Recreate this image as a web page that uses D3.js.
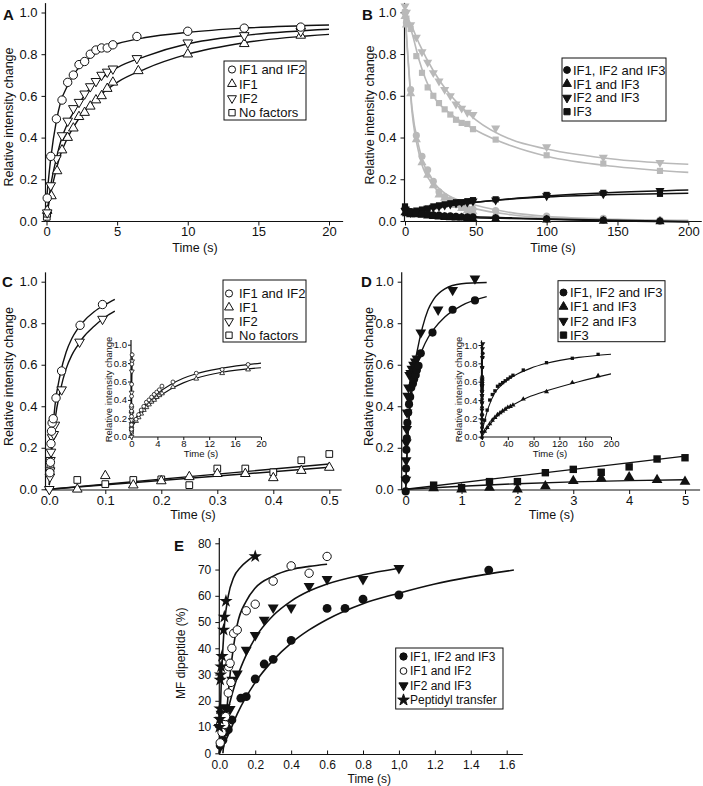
<!DOCTYPE html>
<html><head><meta charset="utf-8">
<script src="https://cdn.jsdelivr.net/npm/d3@7"></script>
<style>body{margin:0;background:#fff} svg{display:block;font-family:"Liberation Sans",Arial,Helvetica,sans-serif}</style>
</head><body><svg id="c" width="703" height="786"></svg>
<script>
// ---------------- DATA ----------------
// Panel A (time s, relative intensity change)
const aIF1IF2 = [[0.05,0.11],[0.3,0.31],[0.7,0.49],[1.1,0.58],[1.5,0.665],[1.9,0.70],[2.3,0.75],[2.7,0.765],[3.1,0.80],[3.5,0.82],[3.9,0.83],[4.3,0.83],[4.7,0.845],[6.4,0.885],[10,0.91],[14,0.925],[18,0.93]];
const aIF1 = [[0.05,0.05],[0.35,0.12],[0.75,0.24],[1.1,0.34],[1.5,0.40],[1.9,0.445],[2.3,0.50],[2.7,0.52],[3.1,0.55],[3.5,0.58],[3.9,0.60],[4.3,0.635],[4.7,0.665],[6.5,0.72],[10,0.80],[14,0.85],[18,0.89]];
const aIF2 = [[0.05,0.04],[0.3,0.17],[0.7,0.30],[1.1,0.41],[1.5,0.48],[1.9,0.54],[2.3,0.57],[2.7,0.61],[3.1,0.645],[3.5,0.67],[3.9,0.70],[4.3,0.715],[4.7,0.73],[6.4,0.78],[10,0.855],[14,0.89],[18,0.91]];
const aNone = [[0.02,0.02],[0.05,0.035]];
const aFitIF1IF2 = [[0,0.1],[0.3,0.3],[0.7,0.48],[1,0.57],[1.5,0.65],[2,0.71],[3,0.78],[4,0.825],[5,0.85],[7,0.88],[10,0.905],[14,0.925],[20,0.94]];
const aFitIF2 = [[0,0.02],[0.3,0.17],[0.7,0.30],[1,0.38],[1.5,0.47],[2,0.53],[3,0.63],[4,0.69],[5,0.735],[7,0.79],[10,0.85],[14,0.89],[20,0.92]];
const aFitIF1 = [[0,0.02],[0.3,0.13],[0.7,0.25],[1,0.32],[1.5,0.40],[2,0.46],[3,0.55],[4,0.615],[5,0.665],[7,0.73],[10,0.80],[14,0.855],[20,0.895]];

// Panel B
const bTime = [0,1,4,8,12,16,20,24,28,32,36,40,44,48,64,100,140,180];
const bGrayIF2IF3 = [1.03,1.0,0.94,0.88,0.81,0.76,0.71,0.67,0.63,0.60,0.56,0.54,0.52,0.51,0.445,0.355,0.305,0.28];
const bGrayIF3 = [1.0,0.97,0.92,0.79,0.71,0.64,0.60,0.565,0.535,0.51,0.485,0.47,0.465,0.44,0.39,0.315,0.275,0.24];
const bGrayIF1IF2IF3 = [1.0,0.95,0.63,0.41,0.31,0.245,0.19,0.14,0.117,0.10,0.085,0.065,0.06,0.057,0.05,0.024,0.013,0.005];
const bGrayIF1IF3 = [0.98,0.94,0.61,0.39,0.28,0.22,0.17,0.125,0.11,0.09,0.075,0.06,0.05,0.045,0.03,0.01,0.005,0.0];
const bBlackIF3 = [0.07,0.055,0.045,0.05,0.055,0.06,0.07,0.075,0.08,0.085,0.09,0.09,0.095,0.1,0.104,0.125,0.135,0.13];
const bBlackIF2IF3 = [0.05,0.045,0.04,0.045,0.05,0.06,0.065,0.07,0.075,0.08,0.085,0.09,0.09,0.095,0.10,0.12,0.13,0.145];
const bBlackIF1IF2IF3 = [0.06,0.05,0.045,0.04,0.035,0.035,0.03,0.028,0.025,0.025,0.022,0.02,0.02,0.02,0.015,0.01,0.005,0.0];
const bBlackIF1IF3 = [0.04,0.035,0.03,0.03,0.028,0.025,0.022,0.02,0.018,0.016,0.015,0.015,0.012,0.012,0.01,0.005,0.0,-0.003];
const bFitTime = [0,5,10,20,30,40,50,75,100,150,200];
const bFitGrayIF2IF3 = [1.0,0.93,0.85,0.72,0.62,0.545,0.485,0.39,0.345,0.295,0.272];
const bFitGrayIF3 = [1.0,0.90,0.77,0.60,0.525,0.475,0.435,0.36,0.31,0.26,0.233];
const bFitGrayIF1IF2IF3 = [1.0,0.54,0.35,0.19,0.125,0.095,0.075,0.04,0.022,0.008,0.003];
const bFitGrayIF1IF3 = [1.0,0.52,0.32,0.17,0.11,0.078,0.058,0.03,0.015,0.005,0.0];
const bFitBlackIF3 = [0.05,0.05,0.055,0.065,0.075,0.083,0.09,0.105,0.115,0.127,0.133];
const bFitBlackIF2IF3 = [0.045,0.047,0.052,0.062,0.072,0.082,0.09,0.107,0.12,0.138,0.149];
const bFitBlackIF1IF2IF3 = [0.05,0.045,0.04,0.033,0.027,0.023,0.02,0.015,0.01,0.003,-0.002];
const bFitBlackIF1IF3 = [0.04,0.036,0.032,0.027,0.022,0.019,0.016,0.012,0.008,0.0,-0.005];

// Panel C (fast phase, 0-0.5 s)
const cIF1IF2 = [[0.001,0.08],[0.002,0.13],[0.003,0.22],[0.004,0.28],[0.005,0.32],[0.007,0.34],[0.012,0.44],[0.022,0.57],[0.055,0.79],[0.095,0.89]];
const cIF2 = [[0,0.0],[0.001,0.06],[0.0015,0.09],[0.002,0.14],[0.003,0.18],[0.005,0.25],[0.008,0.265],[0.01,0.31],[0.022,0.48],[0.054,0.71],[0.095,0.82]];
const cIF1 = [[0.05,0.0],[0.1,0.065],[0.15,0.02],[0.2,0.04],[0.25,0.06],[0.3,0.075],[0.35,0.075],[0.4,0.055],[0.45,0.09],[0.5,0.105]];
const cNone = [[0.002,0.1],[0.05,0.045],[0.1,0.025],[0.15,0.045],[0.2,0.048],[0.25,0.02],[0.3,0.1],[0.35,0.1],[0.4,0.082],[0.45,0.14],[0.5,0.17]];
const cFitIF1IF2 = [[0,0.02],[0.005,0.25],[0.01,0.40],[0.02,0.56],[0.03,0.66],[0.04,0.725],[0.05,0.77],[0.06,0.805],[0.08,0.855],[0.1,0.89],[0.117,0.915]];
const cFitIF2 = [[0,0.02],[0.005,0.2],[0.01,0.33],[0.02,0.48],[0.03,0.58],[0.04,0.645],[0.05,0.69],[0.06,0.73],[0.08,0.785],[0.1,0.83],[0.117,0.858]];
const cFitNone = [[0,0],[0.5,0.122]];
const cFitIF1 = [[0,0],[0.5,0.106]];
// Panel C inset (0-20 s)
const ciTime = [0.7,1.1,1.5,1.9,2.3,2.7,3.1,3.5,3.9,4.3,4.7,6.4,10,14,18];
const ciUpper = [0.19,0.24,0.29,0.33,0.375,0.40,0.43,0.46,0.485,0.51,0.55,0.595,0.69,0.73,0.785];
const ciLower = [0.17,0.21,0.25,0.29,0.32,0.35,0.38,0.40,0.43,0.45,0.47,0.54,0.63,0.69,0.73];
const ciFitTime = [0,1,2,4,6,8,10,14,20];
const ciFitUpper = [0.12,0.24,0.34,0.47,0.565,0.635,0.685,0.745,0.80];
const ciFitLower = [0.10,0.20,0.29,0.42,0.515,0.585,0.635,0.70,0.75];

// Panel D (0-5 s)
const dIF1IF2IF3 = [[0,-0.01],[0.003,0.05],[0.006,0.1],[0.012,0.19],[0.02,0.245],[0.03,0.32],[0.045,0.37],[0.06,0.41],[0.08,0.445],[0.1,0.49],[0.13,0.51],[0.15,0.53],[0.18,0.55],[0.2,0.575],[0.23,0.595],[0.27,0.655],[0.48,0.755],[0.84,0.865],[1.24,0.91]];
const dIF2IF3 = [[0.003,0.045],[0.008,0.14],[0.012,0.225],[0.018,0.29],[0.025,0.37],[0.035,0.45],[0.05,0.49],[0.07,0.55],[0.09,0.56],[0.11,0.58],[0.14,0.60],[0.17,0.615],[0.2,0.63],[0.27,0.755],[0.58,0.865],[0.84,0.96],[1.24,1.015]];
const dIF3 = [[0.5,0.02],[1,0.008],[1.5,0.037],[2,0.037],[2.5,0.08],[3,0.096],[3.5,0.082],[4,0.108],[4.5,0.146],[5,0.152]];
const dIF1IF3 = [[0.5,0.005],[1,0.0],[1.5,0.008],[2,0.0],[2.5,0.015],[3,0.04],[3.5,0.053],[4,0.058],[4.5,0.045],[5,0.037]];
const dFitIF1IF2IF3 = [[0,0],[0.02,0.15],[0.05,0.3],[0.1,0.45],[0.2,0.6],[0.3,0.675],[0.4,0.73],[0.5,0.77],[0.7,0.83],[1.0,0.885],[1.45,0.928]];
const dFitIF2IF3 = [[0,0],[0.02,0.15],[0.05,0.32],[0.1,0.5],[0.2,0.66],[0.3,0.78],[0.4,0.865],[0.5,0.915],[0.7,0.965],[1.0,0.99],[1.45,0.996]];
const dFitIF3 = [[0,0],[5,0.16]];
const dFitIF1IF3 = [[0,0],[1,0.015],[2,0.027],[3,0.036],[4,0.042],[5,0.046]];
// Panel D inset (0-200 s)
const diTime = [4,8,12,16,20,24,28,32,36,40,44,48,64,100,140,180];
const diIF3 = [0.18,0.29,0.40,0.46,0.50,0.55,0.57,0.59,0.61,0.63,0.65,0.67,0.727,0.807,0.855,0.898];
const diIF1IF3 = [0.06,0.10,0.14,0.18,0.21,0.24,0.26,0.28,0.30,0.32,0.33,0.345,0.41,0.49,0.59,0.665];
const diFitTime = [0,5,10,20,30,40,50,75,100,150,200];
const diFitIF3 = [0.05,0.2,0.32,0.48,0.56,0.62,0.665,0.745,0.80,0.865,0.90];
const diFitIF1IF3 = [0.0,0.06,0.11,0.2,0.26,0.315,0.355,0.44,0.5,0.6,0.685];

// Panel E (time s, MF dipeptide %)
const ePT = [[0,10],[0.002,13],[0.004,17],[0.005,28],[0.007,30],[0.01,33],[0.015,37],[0.024,47],[0.028,52],[0.037,58],[0.2,75]];
const eIF1IF2 = [[0.005,4],[0.015,8],[0.03,11],[0.035,14],[0.05,23],[0.065,27],[0.052,33],[0.06,34.3],[0.07,40],[0.08,45.7],[0.1,47],[0.15,54.3],[0.2,56.8],[0.3,65.6],[0.4,71.4],[0.5,68.6],[0.6,75]];
const eIF2IF3 = [[0.0,10],[0.005,12.7],[0.01,15],[0.033,17.5],[0.06,16.8],[0.07,28],[0.1,30.3],[0.15,39.4],[0.2,45],[0.25,50.8],[0.3,55.5],[0.4,55.5],[0.5,63.7],[0.6,66.3],[0.8,66.3],[1.0,70.5]];
const eIF1IF2IF3 = [[0.005,3],[0.02,5],[0.03,8],[0.04,10],[0.05,9],[0.07,12.7],[0.12,21],[0.15,21.6],[0.2,28.3],[0.25,34],[0.3,35.8],[0.4,43],[0.6,55.2],[0.7,55.2],[0.8,58.7],[1.0,60.3],[1.5,69.8]];
const eFitPT = [[0,0],[0.005,14],[0.01,25],[0.02,40],[0.03,50],[0.05,60],[0.08,67],[0.12,71],[0.16,73.5],[0.2,75.5]];
const eFitIF1IF2 = [[0.02,0],[0.04,15],[0.06,30],[0.08,41],[0.1,49],[0.15,58],[0.2,63],[0.3,67.5],[0.4,70],[0.5,71.2],[0.6,72]];
const eFitIF2IF3 = [[0,0],[0.02,8],[0.05,17],[0.1,29],[0.15,37.5],[0.2,44],[0.3,52.5],[0.4,58],[0.5,61.8],[0.6,64.5],[0.8,68],[1.0,70.5]];
const eFitIF1IF2IF3 = [[0,0],[0.05,7],[0.1,15],[0.2,27],[0.3,35.5],[0.4,42],[0.5,47],[0.6,51],[0.8,57],[1.0,61],[1.2,64.5],[1.4,67.2],[1.64,69.8]];
const eXTickLabels = ["0.0","0.2","0.4","0.6","0.8","1,0","1.2","1.4","1.6"];

// legends
const legAC = ["IF1 and IF2","IF1","IF2","No factors"];
const legBD = ["IF1, IF2 and IF3","IF1 and IF3","IF2 and IF3","IF3"];
const legE = ["IF1, IF2 and IF3","IF1 and IF2","IF2 and IF3","Peptidyl transfer"];

// ---------------- DRAWING ----------------
const svg = d3.select("#c");
const GRAY = "#b9b9b9";
const zip = (t, v) => t.map((d, i) => [d, v[i]]);
const symType = {circle: d3.symbolCircle, up: d3.symbolTriangle, down: d3.symbolTriangle, square: d3.symbolSquare, star: d3.symbolStar};

function axes(g, x, y, o) {
  const fs = o.fs || 13;
  const xa = g.append("g").attr("transform", `translate(0,${o.xLine})`);
  xa.call(d3.axisBottom(x).tickValues(o.xMinor).tickSize(o.xIn ? -o.minor : o.minor).tickFormat(""));
  xa.call(d3.axisBottom(x).tickValues(o.xMajor).tickSize(o.xIn ? -o.major : o.major).tickPadding(o.xPad).tickFormat(o.xFmt));
  const ya = g.append("g").attr("transform", `translate(${o.yLine},0)`);
  ya.call(d3.axisLeft(y).tickValues(o.yMinor).tickSize(o.minor).tickFormat(""));
  ya.call(d3.axisLeft(y).tickValues(o.yMajor).tickSize(o.major).tickPadding(o.yPad).tickFormat(o.yFmt));
  [xa, ya].forEach(a => {
    a.selectAll(".domain").remove();
    a.selectAll("line").attr("stroke", "#111").attr("stroke-width", 1);
    a.selectAll("text").attr("font-size", fs).attr("font-family", "Liberation Sans, Arial, sans-serif").attr("fill", "#111");
    a.attr("font-size", null).attr("font-family", null);
  });
  g.append("line").attr("x1", o.yLine).attr("x2", x(o.xEnd)).attr("y1", o.xLine).attr("y2", o.xLine).attr("stroke", "#111").attr("stroke-width", 1.2);
  g.append("line").attr("x1", o.yLine).attr("x2", o.yLine).attr("y1", o.xLine).attr("y2", y(o.yEnd)).attr("stroke", "#111").attr("stroke-width", 1.2);
}

function curve(g, x, y, data, color, w) {
  g.append("path").datum(data)
    .attr("d", d3.line().x(d => x(d[0])).y(d => y(d[1])).curve(d3.curveMonotoneX))
    .attr("fill", "none").attr("stroke", color).attr("stroke-width", w || 1.4);
}

function points(g, x, y, data, type, size, fill, stroke, sw) {
  const p = d3.symbol().type(symType[type]).size(size)();
  g.append("g").selectAll("path").data(data).join("path")
    .attr("d", p)
    .attr("transform", d => `translate(${x(d[0])},${y(d[1])})` + (type === "down" ? " rotate(180)" : ""))
    .attr("fill", fill).attr("stroke", stroke).attr("stroke-width", sw == null ? 1 : sw);
}

function legend(g, box, rows, items, fs) {
  g.append("rect").attr("x", box[0]).attr("y", box[1]).attr("width", box[2]).attr("height", box[3])
    .attr("fill", "#fff").attr("stroke", "#111").attr("stroke-width", 1);
  items.forEach((it, i) => {
    const p = d3.symbol().type(symType[it.type]).size(it.size)();
    g.append("path").attr("d", p)
      .attr("transform", `translate(${rows.mx},${rows.y0 + i * rows.dy})` + (it.type === "down" ? " rotate(180)" : ""))
      .attr("fill", it.fill).attr("stroke", "#111").attr("stroke-width", 1);
    g.append("text").attr("x", rows.tx).attr("y", rows.y0 + i * rows.dy).attr("dy", "0.36em")
      .attr("font-size", fs).attr("fill", "#111").text(it.label);
  });
}

function titles(g, xt, yt, fs) {
  g.append("text").attr("x", xt[0]).attr("y", xt[1]).attr("text-anchor", "middle").attr("dy", "0.36em")
    .attr("font-size", fs).attr("fill", "#111").text(xt[2]);
  g.append("text").attr("transform", `translate(${yt[0]},${yt[1]}) rotate(-90)`).attr("text-anchor", "middle").attr("dy", "0.36em")
    .attr("font-size", fs).attr("fill", "#111").text(yt[2]);
}
function letter(g, x, y, s) {
  g.append("text").attr("x", x).attr("y", y).attr("font-size", 15).attr("font-weight", "bold").attr("fill", "#111").text(s);
}
const f1 = d3.format(".1f"), f0 = d3.format("d");
const rng = (a, b, s) => d3.range(a, b + s / 2, s).map(v => +v.toFixed(4));

// ---------- Panel A ----------
{
  const g = svg.append("g");
  const x = d3.scaleLinear().domain([0, 20]).range([46.5, 329]);
  const y = d3.scaleLinear().domain([0, 1]).range([221, 12.5]);
  axes(g, x, y, {xLine: 221.5, yLine: 45.5, xEnd: 21, yEnd: 1.045, xMajor: rng(0,20,5), xMinor: rng(0,20,2.5), yMajor: rng(0,1,0.2), yMinor: rng(0,1,0.1), xFmt: f0, yFmt: f1, major: 4, minor: 3, xPad: 1.5, yPad: 4});
  curve(g, x, y, aFitIF1IF2, "#111"); curve(g, x, y, aFitIF2, "#111"); curve(g, x, y, aFitIF1, "#111");
  points(g, x, y, aNone, "square", 45, "#fff", "#111");
  points(g, x, y, aIF1, "up", 40, "#fff", "#111");
  points(g, x, y, aIF2, "down", 40, "#fff", "#111");
  points(g, x, y, aIF1IF2, "circle", 55, "#fff", "#111");
  legend(g, [224, 61, 82, 59], {mx: 232, tx: 239, y0: 69.5, dy: 14.4},
    [{type:"circle",size:40,fill:"#fff",label:legAC[0]},{type:"up",size:34,fill:"#fff",label:legAC[1]},{type:"down",size:34,fill:"#fff",label:legAC[2]},{type:"square",size:40,fill:"#fff",label:legAC[3]}], 13);
  titles(g, [195, 247.5, "Time (s)"], [8.5, 117, "Relative intensity change"], 12.5);
  letter(g, 3, 20, "A");
}

// ---------- Panel B ----------
{
  const g = svg.append("g");
  const x = d3.scaleLinear().domain([0, 200]).range([405, 688.3]);
  const y = d3.scaleLinear().domain([0, 1]).range([221, 12.3]);
  axes(g, x, y, {xLine: 221.5, yLine: 404.5, xEnd: 209.5, yEnd: 1.045, xMajor: rng(0,200,50), xMinor: rng(0,200,25), yMajor: rng(0,1,0.2), yMinor: rng(0,1,0.1), xFmt: f0, yFmt: f1, major: 4, minor: 3, xPad: 1.5, yPad: 4});
  [bFitGrayIF2IF3, bFitGrayIF3, bFitGrayIF1IF2IF3, bFitGrayIF1IF3].forEach(s => curve(g, x, y, zip(bFitTime, s), GRAY, 1.6));
  points(g, x, y, zip(bTime, bGrayIF3), "square", 38, GRAY, GRAY, 0);
  points(g, x, y, zip(bTime, bGrayIF2IF3), "down", 36, GRAY, GRAY, 0);
  points(g, x, y, zip(bTime, bGrayIF1IF3), "up", 36, GRAY, GRAY, 0);
  points(g, x, y, zip(bTime, bGrayIF1IF2IF3), "circle", 40, GRAY, GRAY, 0);
  [bFitBlackIF3, bFitBlackIF2IF3, bFitBlackIF1IF2IF3, bFitBlackIF1IF3].forEach(s => curve(g, x, y, zip(bFitTime, s), "#111", 1.5));
  points(g, x, y, zip(bTime, bBlackIF3), "square", 38, "#111", "#111", 0);
  points(g, x, y, zip(bTime, bBlackIF2IF3), "down", 36, "#111", "#111", 0);
  points(g, x, y, zip(bTime, bBlackIF1IF3), "up", 36, "#111", "#111", 0);
  points(g, x, y, zip(bTime, bBlackIF1IF2IF3), "circle", 40, "#111", "#111", 0);
  legend(g, [562, 58, 104, 63], {mx: 567, tx: 573, y0: 70, dy: 13.9},
    [{type:"circle",size:36,fill:"#111",label:legBD[0]},{type:"up",size:34,fill:"#111",label:legBD[1]},{type:"down",size:34,fill:"#111",label:legBD[2]},{type:"square",size:38,fill:"#111",label:legBD[3]}], 13);
  titles(g, [553, 247.5, "Time (s)"], [369, 115, "Relative intensity change"], 12.5);
  letter(g, 362, 20, "B");
}

// ---------- Panel C ----------
{
  const g = svg.append("g");
  const x = d3.scaleLinear().domain([0, 0.5]).range([49.3, 329.3]);
  const y = d3.scaleLinear().domain([0, 1]).range([489.3, 281.7]);
  axes(g, x, y, {xLine: 490, yLine: 45.5, xEnd: 0.522, yEnd: 1.045, xMajor: rng(0,0.5,0.1), xMinor: rng(0,0.5,0.05), yMajor: rng(0,1,0.2), yMinor: rng(0,1,0.1), xFmt: f1, yFmt: f1, major: 4, minor: 3, xPad: 1.5, yPad: 4});
  [cFitIF1IF2, cFitIF2, cFitNone, cFitIF1].forEach(s => curve(g, x, y, s, "#111"));
  points(g, x, y, cNone, "square", 45, "#fff", "#111");
  points(g, x, y, cIF1, "up", 40, "#fff", "#111");
  points(g, x, y, cIF2, "down", 40, "#fff", "#111");
  points(g, x, y, cIF1IF2, "circle", 55, "#fff", "#111");
  legend(g, [223, 280, 83, 62], {mx: 229, tx: 239, y0: 293.5, dy: 13.9},
    [{type:"circle",size:40,fill:"#fff",label:legAC[0]},{type:"up",size:34,fill:"#fff",label:legAC[1]},{type:"down",size:34,fill:"#fff",label:legAC[2]},{type:"square",size:40,fill:"#fff",label:legAC[3]}], 13);
  titles(g, [193, 514, "Time (s)"], [8.5, 376.5, "Relative intensity change"], 12.5);
  letter(g, 2, 286.5, "C");
  // inset
  const xi = d3.scaleLinear().domain([0, 20]).range([131.5, 261]);
  const yi = d3.scaleLinear().domain([0, 1]).range([436.7, 344.7]);
  axes(g, xi, yi, {xLine: 437, yLine: 131, xEnd: 20, yEnd: 1.05, xMajor: rng(0,20,4), xMinor: rng(0,20,2), yMajor: rng(0,1,0.2), yMinor: rng(0,1,0.1), xFmt: f0, yFmt: f1, major: 3, minor: 2, xPad: 0, yPad: 1, fs: 9.5});
  [zip(ciFitTime, ciFitUpper), zip(ciFitTime, ciFitLower), cFitIF1IF2, cFitIF2].forEach(s => curve(g, xi, yi, s, "#111", 1.1));
  points(g, xi, yi, cNone.slice(0, 2), "square", 10, "#fff", "#111", 0.8);
  points(g, xi, yi, zip(ciTime, ciLower), "up", 10, "#fff", "#111", 0.8);
  points(g, xi, yi, cIF2, "down", 10, "#fff", "#111", 0.8);
  points(g, xi, yi, zip(ciTime, ciUpper), "circle", 12, "#fff", "#111", 0.8);
  points(g, xi, yi, cIF1IF2, "circle", 12, "#fff", "#111", 0.8);
  titles(g, [201, 454, "Time (s)"], [108.5, 389.5, "Relative intensity change"], 9.5);
}

// ---------- Panel D ----------
{
  const g = svg.append("g");
  const x = d3.scaleLinear().domain([0, 5]).range([405.7, 685]);
  const y = d3.scaleLinear().domain([0, 1]).range([489.3, 281.7]);
  axes(g, x, y, {xLine: 490, yLine: 401.7, xEnd: 5.27, yEnd: 1.045, xMajor: rng(0,5,1), xMinor: rng(0,5,0.5), yMajor: rng(0,1,0.2), yMinor: rng(0,1,0.1), xFmt: f0, yFmt: f1, major: 4, minor: 3, xPad: 1.5, yPad: 4});
  [dFitIF1IF2IF3, dFitIF2IF3, dFitIF3, dFitIF1IF3].forEach(s => curve(g, x, y, s, "#111"));
  points(g, x, y, dIF3, "square", 55, "#111", "#111", 0);
  points(g, x, y, dIF1IF3, "up", 50, "#111", "#111", 0);
  points(g, x, y, dIF2IF3, "down", 50, "#111", "#111", 0);
  points(g, x, y, dIF1IF2IF3, "circle", 52, "#111", "#111", 0);
  legend(g, [558, 280.7, 107, 61], {mx: 563.5, tx: 570, y0: 292.5, dy: 14.2},
    [{type:"circle",size:38,fill:"#111",label:legBD[0]},{type:"up",size:34,fill:"#111",label:legBD[1]},{type:"down",size:34,fill:"#111",label:legBD[2]},{type:"square",size:40,fill:"#111",label:legBD[3]}], 13);
  titles(g, [551.5, 514, "Time (s)"], [368.5, 376.5, "Relative intensity change"], 12.5);
  letter(g, 361, 286.5, "D");
  // inset
  const xi = d3.scaleLinear().domain([0, 200]).range([482, 611]);
  const yi = d3.scaleLinear().domain([0, 1]).range([436.7, 345]);
  axes(g, xi, yi, {xLine: 437, yLine: 481.5, xEnd: 200, yEnd: 1.05, xMajor: rng(0,200,40), xMinor: rng(0,200,20), yMajor: rng(0,1,0.2), yMinor: rng(0,1,0.1), xFmt: f0, yFmt: f1, major: 3, minor: 2, xPad: 0, yPad: 1, fs: 9.5});
  [zip(diFitTime, diFitIF3), zip(diFitTime, diFitIF1IF3), dFitIF1IF2IF3, dFitIF2IF3].forEach(s => curve(g, xi, yi, s, "#111", 1.1));
  points(g, xi, yi, zip(diTime, diIF3), "square", 11, "#111", "#111", 0);
  points(g, xi, yi, zip(diTime, diIF1IF3), "up", 11, "#111", "#111", 0);
  points(g, xi, yi, dIF2IF3, "down", 11, "#111", "#111", 0);
  points(g, xi, yi, dIF1IF2IF3, "circle", 11, "#111", "#111", 0);
  titles(g, [550, 454, "Time (s)"], [458.5, 389.5, "Relative intensity change"], 9.5);
}

// ---------- Panel E ----------
{
  const g = svg.append("g");
  const x = d3.scaleLinear().domain([0, 1.6]).range([219.3, 506.7]);
  const y = d3.scaleLinear().domain([0, 80]).range([753.3, 543.3]);
  const eMajor = rng(0,1.6,0.2);
  const eFmt = v => eXTickLabels[eMajor.indexOf(+v.toFixed(4))];
  axes(g, x, y, {xLine: 754.5, yLine: 219.3, xEnd: 1.69, yEnd: 82, xMajor: eMajor, xMinor: rng(0,1.6,0.1), yMajor: rng(0,80,10), yMinor: rng(0,80,5), xFmt: eFmt, yFmt: f0, major: 4, minor: 3, xIn: true, xPad: 6, yPad: 4, fs: 12});
  [eFitPT, eFitIF1IF2, eFitIF2IF3, eFitIF1IF2IF3].forEach(s => curve(g, x, y, s, "#111", 1.6));
  points(g, x, y, eIF1IF2IF3, "circle", 62, "#111", "#111", 0);
  points(g, x, y, eIF2IF3, "down", 52, "#111", "#111", 0);
  points(g, x, y, eIF1IF2, "circle", 55, "#fff", "#111", 1);
  points(g, x, y, ePT, "star", 55, "#111", "#111", 0);
  legend(g, [395.7, 648, 107.3, 61], {mx: 403.5, tx: 410, y0: 656.5, dy: 14.5},
    [{type:"circle",size:42,fill:"#111",label:legE[0]},{type:"circle",size:36,fill:"#fff",label:legE[1]},{type:"down",size:36,fill:"#111",label:legE[2]},{type:"star",size:42,fill:"#111",label:legE[3]}], 12);
  titles(g, [369.3, 779, "Time (s)"], [180.7, 653.3, "MF dipeptide (%)"], 12);
  letter(g, 174, 550.5, "E");
}
</script></body></html>
